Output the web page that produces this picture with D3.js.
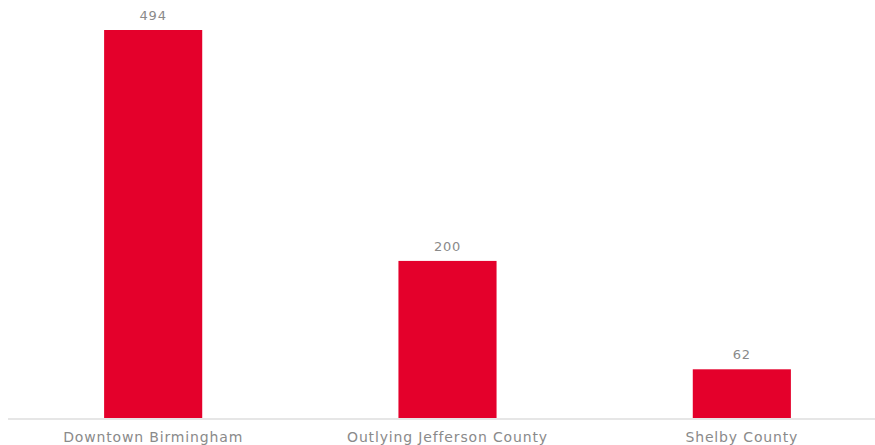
<!DOCTYPE html>
<html>
<head>
<meta charset="utf-8">
<script src="https://cdn.jsdelivr.net/npm/d3@7"></script>
<style>
body { margin: 0; background: #fff; }
text { font-family: 'DejaVu Sans', sans-serif; fill: #8a8a8a; }
</style>
</head>
<body>
<svg id="chart"></svg>
<script>
var categories = ['Downtown Birmingham', 'Outlying Jefferson County', 'Shelby County'];
var values = [494, 200, 62];

var dims = {
	width: 875,
	height: 445,
	baseline: 418,
	top: 30
};

var svg = d3.select('#chart')
	.attr('width', dims.width)
	.attr('height', dims.height);

var x = d3.scaleBand()
	.domain(categories)
	.range([6, 889])
	.paddingInner(2 / 3)
	.paddingOuter(1 / 3);

var y = d3.scaleLinear()
	.domain([0, 494])
	.range([dims.baseline, dims.top]);

svg.selectAll('rect.bar')
	.data(values)
	.enter()
	.append('rect')
		.attr('class', 'bar')
		.attr('x', (d, i) => x(categories[i]))
		.attr('y', d => y(d))
		.attr('width', x.bandwidth())
		.attr('height', d => y(0) - y(d))
		.attr('fill', '#e4002b');

// baseline
svg.append('line')
	.attr('x1', 8)
	.attr('x2', dims.width)
	.attr('y1', y(0) + 1)
	.attr('y2', y(0) + 1)
	.attr('stroke', '#e6e6e6')
	.attr('stroke-width', 2);

svg.selectAll('text.value')
	.data(values)
	.enter()
	.append('text')
		.attr('class', 'value')
		.attr('text-anchor', 'middle')
		.attr('x', (d, i) => x(categories[i]) + x.bandwidth() / 2)
		.attr('y', d => y(d) - 10)
		.style('font-size', '13px')
		.style('letter-spacing', '0.8px')
		.text(d => d);

svg.selectAll('text.cat')
	.data(categories)
	.enter()
	.append('text')
		.attr('class', 'cat')
		.attr('text-anchor', 'middle')
		.attr('x', d => x(d) + x.bandwidth() / 2)
		.attr('y', 442)
		.style('font-size', '14px')
		.style('letter-spacing', '0.85px')
		.text(d => d);
</script>
</body>
</html>
